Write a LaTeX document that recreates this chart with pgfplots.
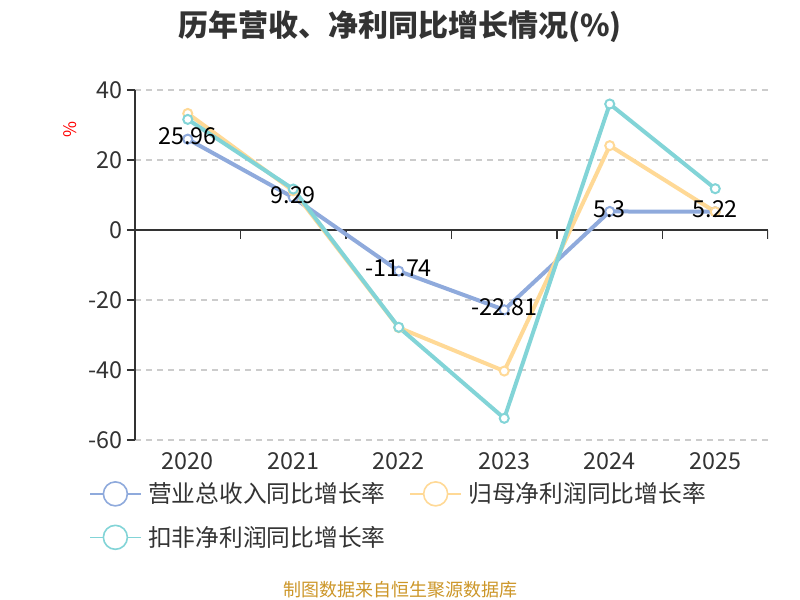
\documentclass[border=0pt]{standalone}
\usepackage{fontspec}
\setmainfont{Noto Sans CJK SC}
\usepackage{pgfplots}
\pgfplotsset{compat=1.18}
\definecolor{revblue}{RGB}{143,170,220}
\definecolor{profyel}{RGB}{255,217,150}
\definecolor{deducteal}{RGB}{130,212,215}
\definecolor{axisdark}{RGB}{51,51,51}
\definecolor{gridgray}{RGB}{204,204,204}
\definecolor{srcgold}{RGB}{204,150,40}

\begin{document}
\begin{tikzpicture}[x=1pt,y=1pt]
\path[use as bounding box] (0,0) rectangle (600,450);
\node[font=\fontsize{22.5}{27}\selectfont\bfseries, text=axisdark] at (300,430) {历年营收、净利同比增长情况(\%)};
\node[font=\fontsize{13.5}{16}\selectfont, text=srcgold] at (300,8) {制图数据来自恒生聚源数据库};
\begin{axis}[
    at={(101.25pt,120pt)}, anchor=south west, scale only axis,
    width=474.75pt, height=262.5pt,
    xmin=-0.5, xmax=5.5, ymin=-60, ymax=40,
    xtick={0,1,2,3,4,5}, xticklabels={2020,2021,2022,2023,2024,2025},
    ytick={-60,-40,-20,0,20,40}, yticklabels={-60,-40,-20,0,20,40},
    axis x line*=bottom, axis y line*=left,
    x axis line style={draw=none},
    y axis line style={draw=axisdark, line width=1.5pt},
    xtick style={draw=none},
    ytick style={draw=axisdark, line width=1.5pt},
    tick align=outside, major tick length=6pt,
    ymajorgrids,
    grid style={gridgray, line width=1.1pt, dash pattern=on 4.5pt off 3.75pt},
    tick label style={font=\fontsize{17.5}{20}\selectfont, text=axisdark},
    ylabel={\%}, ylabel style={font=\fontsize{13}{15}\selectfont, text=red, at={(axis description cs:-0.103,0.886)}, anchor=center},
    legend columns=2, legend cell align=left,
    legend style={at={(axis description cs:-0.0727,-0.114)}, anchor=north west, draw=none, fill=none,
        font=\fontsize{17.8}{21}\selectfont, text=axisdark, inner sep=0pt, row sep=12pt,
        /tikz/every odd column/.append style={column sep=3pt},
        /tikz/every even column/.append style={column sep=16pt}},
    legend image code/.code={
        \draw[#1, line width=1.2pt] (0pt,0pt) -- (38pt,0pt);
        \draw[#1, line width=1.2pt, fill=white] (19pt,0pt) circle (9pt);
    },
]
\draw[axisdark, line width=1.2pt] (axis cs:-0.5,0) -- (axis cs:5.5,0);
\pgfplotsinvokeforeach{-0.5,0.5,1.5,2.5,3.5,4.5,5.5}{
    \draw[axisdark, line width=1.2pt] (axis cs:#1,0) -- ++(0pt,-6.75pt);
}
\addplot[revblue, line width=3pt, mark=*, mark size=3.4pt, mark options={fill=white, line width=1.5pt}]
    coordinates {(0,25.96) (1,9.29) (2,-11.74) (3,-22.81) (4,5.3) (5,5.22)};
\addlegendentry{营业总收入同比增长率}
\addplot[profyel, line width=3pt, mark=*, mark size=3.4pt, mark options={fill=white, line width=1.5pt}]
    coordinates {(0,33.3) (1,11.2) (2,-27.9) (3,-40.3) (4,24.1) (5,5.2)};
\addlegendentry{归母净利润同比增长率}
\addplot[deducteal, line width=3pt, mark=*, mark size=3.4pt, mark options={fill=white, line width=1.5pt}]
    coordinates {(0,31.6) (1,11.7) (2,-27.8) (3,-53.8) (4,36.0) (5,11.8)};
\addlegendentry{扣非净利润同比增长率}
\addplot[draw=none, mark=none, forget plot, point meta=explicit symbolic, nodes near coords,
    every node near coord/.style={font=\fontsize{17.5}{20}\selectfont, text=black, anchor=center, yshift=2pt}]
    coordinates {(0,25.96)[25.96] (1,9.29)[9.29] (2,-11.74)[-11.74] (3,-22.81)[-22.81] (4,5.3)[5.3] (5,5.22)[5.22]};
\end{axis}
\end{tikzpicture}
\end{document}
